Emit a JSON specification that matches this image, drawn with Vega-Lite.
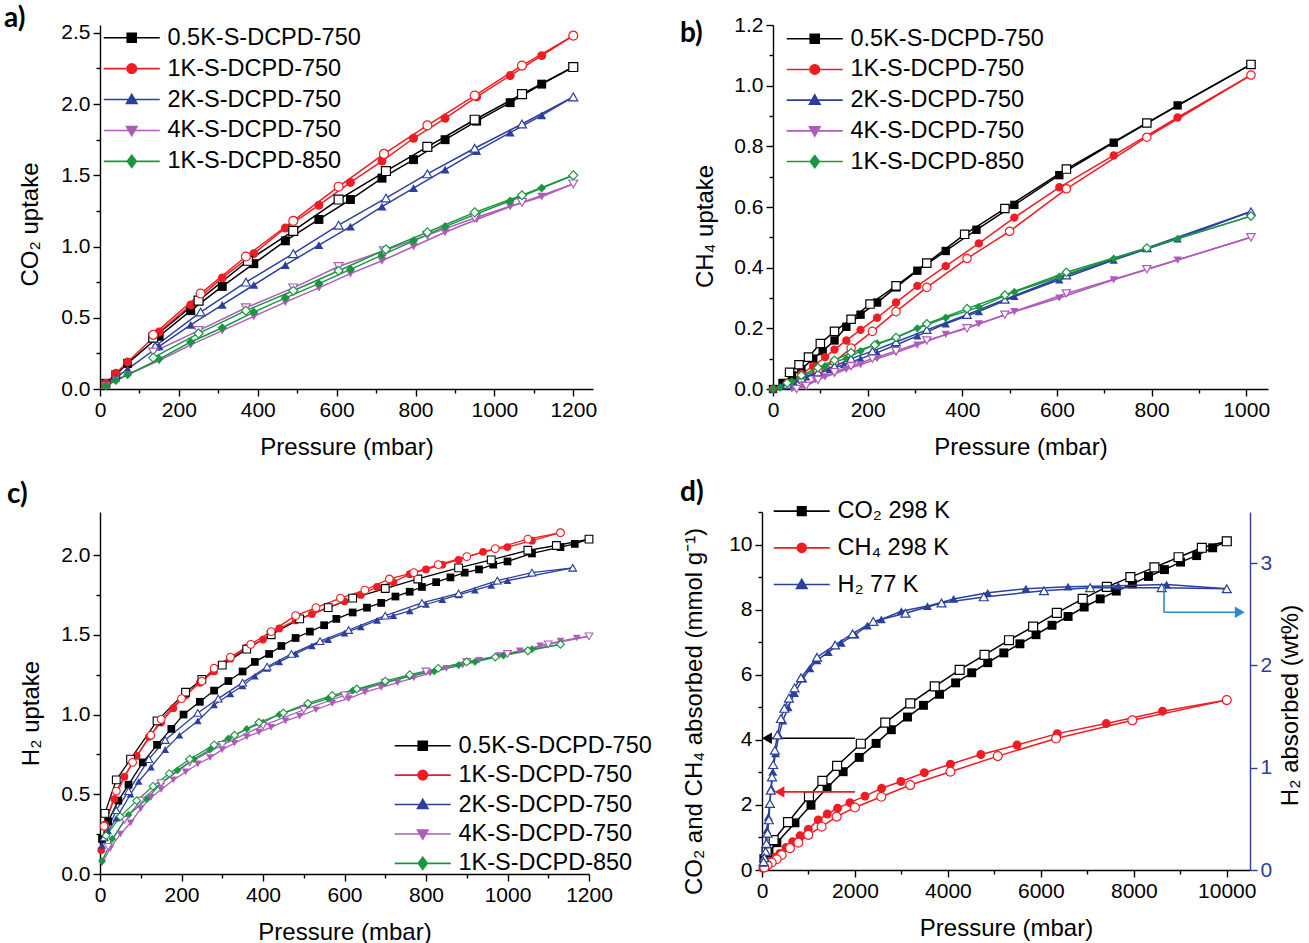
{
"$schema": "https://vega.github.io/schema/vega-lite/v6.json",
"padding": {"left": 4, "top": 4, "right": 4, "bottom": 4},
"config": {
 "font": "Liberation Sans",
 "view": {"stroke": null},
 "axis": {"grid": false, "domainColor": "#000", "domainWidth": 1.4, "tickColor": "#000", "tickWidth": 1.4, "labelColor": "#000", "labelFont": "Liberation Sans", "labelFontSize": 21, "labelPadding": 3, "labelOverlap": false, "labelFlush": false, "labelBound": false, "titleFont": "Liberation Sans", "titleFontSize": 24, "titleFontWeight": "normal", "titleColor": "#000"},
 "legend": {"labelFont": "Liberation Sans", "labelFontSize": 23.5, "labelColor": "#000", "labelLimit": 500}
},
"datasets": {
"a": [
{"s":"0.5K-S-DCPD-750","b":"a","p":15,"v":0.04},{"s":"0.5K-S-DCPD-750","b":"a","p":40,"v":0.10},{"s":"0.5K-S-DCPD-750","b":"a","p":70,"v":0.18},{"s":"0.5K-S-DCPD-750","b":"a","p":150,"v":0.37},{"s":"0.5K-S-DCPD-750","b":"a","p":230,"v":0.55},{"s":"0.5K-S-DCPD-750","b":"a","p":310,"v":0.72},{"s":"0.5K-S-DCPD-750","b":"a","p":390,"v":0.88},{"s":"0.5K-S-DCPD-750","b":"a","p":470,"v":1.04},{"s":"0.5K-S-DCPD-750","b":"a","p":555,"v":1.19},{"s":"0.5K-S-DCPD-750","b":"a","p":635,"v":1.33},{"s":"0.5K-S-DCPD-750","b":"a","p":715,"v":1.48},{"s":"0.5K-S-DCPD-750","b":"a","p":795,"v":1.61},{"s":"0.5K-S-DCPD-750","b":"a","p":875,"v":1.75},{"s":"0.5K-S-DCPD-750","b":"a","p":955,"v":1.88},{"s":"0.5K-S-DCPD-750","b":"a","p":1040,"v":2.01},{"s":"0.5K-S-DCPD-750","b":"a","p":1120,"v":2.14},{"s":"0.5K-S-DCPD-750","b":"a","p":1200,"v":2.26},
{"s":"0.5K-S-DCPD-750","b":"d","p":1200,"v":2.26},{"s":"0.5K-S-DCPD-750","b":"d","p":1070,"v":2.07},{"s":"0.5K-S-DCPD-750","b":"d","p":950,"v":1.89},{"s":"0.5K-S-DCPD-750","b":"d","p":830,"v":1.70},{"s":"0.5K-S-DCPD-750","b":"d","p":725,"v":1.53},{"s":"0.5K-S-DCPD-750","b":"d","p":605,"v":1.33},{"s":"0.5K-S-DCPD-750","b":"d","p":490,"v":1.11},{"s":"0.5K-S-DCPD-750","b":"d","p":375,"v":0.90},{"s":"0.5K-S-DCPD-750","b":"d","p":250,"v":0.62},{"s":"0.5K-S-DCPD-750","b":"d","p":135,"v":0.36},
{"s":"1K-S-DCPD-750","b":"a","p":15,"v":0.04},{"s":"1K-S-DCPD-750","b":"a","p":40,"v":0.11},{"s":"1K-S-DCPD-750","b":"a","p":70,"v":0.19},{"s":"1K-S-DCPD-750","b":"a","p":150,"v":0.40},{"s":"1K-S-DCPD-750","b":"a","p":230,"v":0.59},{"s":"1K-S-DCPD-750","b":"a","p":310,"v":0.78},{"s":"1K-S-DCPD-750","b":"a","p":390,"v":0.95},{"s":"1K-S-DCPD-750","b":"a","p":470,"v":1.13},{"s":"1K-S-DCPD-750","b":"a","p":555,"v":1.29},{"s":"1K-S-DCPD-750","b":"a","p":635,"v":1.45},{"s":"1K-S-DCPD-750","b":"a","p":715,"v":1.60},{"s":"1K-S-DCPD-750","b":"a","p":795,"v":1.76},{"s":"1K-S-DCPD-750","b":"a","p":875,"v":1.90},{"s":"1K-S-DCPD-750","b":"a","p":955,"v":2.05},{"s":"1K-S-DCPD-750","b":"a","p":1040,"v":2.20},{"s":"1K-S-DCPD-750","b":"a","p":1120,"v":2.34},{"s":"1K-S-DCPD-750","b":"a","p":1200,"v":2.48},
{"s":"1K-S-DCPD-750","b":"d","p":1200,"v":2.48},{"s":"1K-S-DCPD-750","b":"d","p":1070,"v":2.27},{"s":"1K-S-DCPD-750","b":"d","p":950,"v":2.06},{"s":"1K-S-DCPD-750","b":"d","p":830,"v":1.85},{"s":"1K-S-DCPD-750","b":"d","p":720,"v":1.65},{"s":"1K-S-DCPD-750","b":"d","p":605,"v":1.42},{"s":"1K-S-DCPD-750","b":"d","p":490,"v":1.18},{"s":"1K-S-DCPD-750","b":"d","p":370,"v":0.93},{"s":"1K-S-DCPD-750","b":"d","p":255,"v":0.67},{"s":"1K-S-DCPD-750","b":"d","p":135,"v":0.38},
{"s":"2K-S-DCPD-750","b":"a","p":15,"v":0.03},{"s":"2K-S-DCPD-750","b":"a","p":40,"v":0.08},{"s":"2K-S-DCPD-750","b":"a","p":70,"v":0.14},{"s":"2K-S-DCPD-750","b":"a","p":150,"v":0.30},{"s":"2K-S-DCPD-750","b":"a","p":230,"v":0.45},{"s":"2K-S-DCPD-750","b":"a","p":310,"v":0.59},{"s":"2K-S-DCPD-750","b":"a","p":390,"v":0.73},{"s":"2K-S-DCPD-750","b":"a","p":470,"v":0.87},{"s":"2K-S-DCPD-750","b":"a","p":555,"v":1.01},{"s":"2K-S-DCPD-750","b":"a","p":635,"v":1.14},{"s":"2K-S-DCPD-750","b":"a","p":715,"v":1.28},{"s":"2K-S-DCPD-750","b":"a","p":795,"v":1.41},{"s":"2K-S-DCPD-750","b":"a","p":875,"v":1.54},{"s":"2K-S-DCPD-750","b":"a","p":955,"v":1.67},{"s":"2K-S-DCPD-750","b":"a","p":1040,"v":1.80},{"s":"2K-S-DCPD-750","b":"a","p":1120,"v":1.92},{"s":"2K-S-DCPD-750","b":"a","p":1200,"v":2.05},
{"s":"2K-S-DCPD-750","b":"d","p":1200,"v":2.05},{"s":"2K-S-DCPD-750","b":"d","p":1070,"v":1.86},{"s":"2K-S-DCPD-750","b":"d","p":950,"v":1.69},{"s":"2K-S-DCPD-750","b":"d","p":830,"v":1.51},{"s":"2K-S-DCPD-750","b":"d","p":725,"v":1.34},{"s":"2K-S-DCPD-750","b":"d","p":605,"v":1.15},{"s":"2K-S-DCPD-750","b":"d","p":490,"v":0.95},{"s":"2K-S-DCPD-750","b":"d","p":370,"v":0.75},{"s":"2K-S-DCPD-750","b":"d","p":255,"v":0.54},{"s":"2K-S-DCPD-750","b":"d","p":140,"v":0.30},
{"s":"4K-S-DCPD-750","b":"a","p":15,"v":0.02},{"s":"4K-S-DCPD-750","b":"a","p":40,"v":0.06},{"s":"4K-S-DCPD-750","b":"a","p":70,"v":0.10},{"s":"4K-S-DCPD-750","b":"a","p":150,"v":0.20},{"s":"4K-S-DCPD-750","b":"a","p":230,"v":0.31},{"s":"4K-S-DCPD-750","b":"a","p":310,"v":0.41},{"s":"4K-S-DCPD-750","b":"a","p":390,"v":0.51},{"s":"4K-S-DCPD-750","b":"a","p":470,"v":0.61},{"s":"4K-S-DCPD-750","b":"a","p":555,"v":0.71},{"s":"4K-S-DCPD-750","b":"a","p":635,"v":0.81},{"s":"4K-S-DCPD-750","b":"a","p":715,"v":0.90},{"s":"4K-S-DCPD-750","b":"a","p":795,"v":1.00},{"s":"4K-S-DCPD-750","b":"a","p":875,"v":1.10},{"s":"4K-S-DCPD-750","b":"a","p":955,"v":1.19},{"s":"4K-S-DCPD-750","b":"a","p":1040,"v":1.28},{"s":"4K-S-DCPD-750","b":"a","p":1120,"v":1.35},{"s":"4K-S-DCPD-750","b":"a","p":1200,"v":1.44},
{"s":"4K-S-DCPD-750","b":"d","p":1200,"v":1.44},{"s":"4K-S-DCPD-750","b":"d","p":1070,"v":1.31},{"s":"4K-S-DCPD-750","b":"d","p":950,"v":1.20},{"s":"4K-S-DCPD-750","b":"d","p":830,"v":1.08},{"s":"4K-S-DCPD-750","b":"d","p":720,"v":0.97},{"s":"4K-S-DCPD-750","b":"d","p":605,"v":0.86},{"s":"4K-S-DCPD-750","b":"d","p":490,"v":0.71},{"s":"4K-S-DCPD-750","b":"d","p":370,"v":0.57},{"s":"4K-S-DCPD-750","b":"d","p":250,"v":0.41},{"s":"4K-S-DCPD-750","b":"d","p":135,"v":0.26},
{"s":"1K-S-DCPD-850","b":"a","p":15,"v":0.02},{"s":"1K-S-DCPD-850","b":"a","p":40,"v":0.06},{"s":"1K-S-DCPD-850","b":"a","p":70,"v":0.10},{"s":"1K-S-DCPD-850","b":"a","p":150,"v":0.21},{"s":"1K-S-DCPD-850","b":"a","p":230,"v":0.33},{"s":"1K-S-DCPD-850","b":"a","p":310,"v":0.43},{"s":"1K-S-DCPD-850","b":"a","p":390,"v":0.54},{"s":"1K-S-DCPD-850","b":"a","p":470,"v":0.64},{"s":"1K-S-DCPD-850","b":"a","p":555,"v":0.74},{"s":"1K-S-DCPD-850","b":"a","p":635,"v":0.84},{"s":"1K-S-DCPD-850","b":"a","p":715,"v":0.94},{"s":"1K-S-DCPD-850","b":"a","p":795,"v":1.04},{"s":"1K-S-DCPD-850","b":"a","p":875,"v":1.14},{"s":"1K-S-DCPD-850","b":"a","p":955,"v":1.23},{"s":"1K-S-DCPD-850","b":"a","p":1040,"v":1.32},{"s":"1K-S-DCPD-850","b":"a","p":1120,"v":1.41},{"s":"1K-S-DCPD-850","b":"a","p":1200,"v":1.50},
{"s":"1K-S-DCPD-850","b":"d","p":1200,"v":1.50},{"s":"1K-S-DCPD-850","b":"d","p":1070,"v":1.36},{"s":"1K-S-DCPD-850","b":"d","p":950,"v":1.24},{"s":"1K-S-DCPD-850","b":"d","p":830,"v":1.10},{"s":"1K-S-DCPD-850","b":"d","p":725,"v":0.98},{"s":"1K-S-DCPD-850","b":"d","p":605,"v":0.83},{"s":"1K-S-DCPD-850","b":"d","p":490,"v":0.69},{"s":"1K-S-DCPD-850","b":"d","p":370,"v":0.55},{"s":"1K-S-DCPD-850","b":"d","p":250,"v":0.39},{"s":"1K-S-DCPD-850","b":"d","p":135,"v":0.22}
],
"b": [
{"s":"0.5K-S-DCPD-750","b":"a","p":0,"v":0},{"s":"0.5K-S-DCPD-750","b":"a","p":20,"v":0.02},{"s":"0.5K-S-DCPD-750","b":"a","p":40,"v":0.045},{"s":"0.5K-S-DCPD-750","b":"a","p":60,"v":0.065},{"s":"0.5K-S-DCPD-750","b":"a","p":85,"v":0.10},{"s":"0.5K-S-DCPD-750","b":"a","p":105,"v":0.125},{"s":"0.5K-S-DCPD-750","b":"a","p":130,"v":0.16},{"s":"0.5K-S-DCPD-750","b":"a","p":155,"v":0.205},{"s":"0.5K-S-DCPD-750","b":"a","p":185,"v":0.245},{"s":"0.5K-S-DCPD-750","b":"a","p":220,"v":0.285},{"s":"0.5K-S-DCPD-750","b":"a","p":260,"v":0.335},{"s":"0.5K-S-DCPD-750","b":"a","p":305,"v":0.39},{"s":"0.5K-S-DCPD-750","b":"a","p":365,"v":0.455},{"s":"0.5K-S-DCPD-750","b":"a","p":430,"v":0.525},{"s":"0.5K-S-DCPD-750","b":"a","p":510,"v":0.607},{"s":"0.5K-S-DCPD-750","b":"a","p":605,"v":0.705},{"s":"0.5K-S-DCPD-750","b":"a","p":720,"v":0.812},{"s":"0.5K-S-DCPD-750","b":"a","p":855,"v":0.935},{"s":"0.5K-S-DCPD-750","b":"a","p":1010,"v":1.07},
{"s":"0.5K-S-DCPD-750","b":"d","p":1010,"v":1.07},{"s":"0.5K-S-DCPD-750","b":"d","p":790,"v":0.877},{"s":"0.5K-S-DCPD-750","b":"d","p":620,"v":0.725},{"s":"0.5K-S-DCPD-750","b":"d","p":490,"v":0.595},{"s":"0.5K-S-DCPD-750","b":"d","p":405,"v":0.51},{"s":"0.5K-S-DCPD-750","b":"d","p":325,"v":0.415},{"s":"0.5K-S-DCPD-750","b":"d","p":260,"v":0.34},{"s":"0.5K-S-DCPD-750","b":"d","p":205,"v":0.28},{"s":"0.5K-S-DCPD-750","b":"d","p":165,"v":0.23},{"s":"0.5K-S-DCPD-750","b":"d","p":130,"v":0.19},{"s":"0.5K-S-DCPD-750","b":"d","p":100,"v":0.15},{"s":"0.5K-S-DCPD-750","b":"d","p":75,"v":0.105},{"s":"0.5K-S-DCPD-750","b":"d","p":55,"v":0.08},{"s":"0.5K-S-DCPD-750","b":"d","p":35,"v":0.055},
{"s":"1K-S-DCPD-750","b":"a","p":0,"v":0},{"s":"1K-S-DCPD-750","b":"a","p":30,"v":0.02},{"s":"1K-S-DCPD-750","b":"a","p":60,"v":0.05},{"s":"1K-S-DCPD-750","b":"a","p":85,"v":0.075},{"s":"1K-S-DCPD-750","b":"a","p":110,"v":0.105},{"s":"1K-S-DCPD-750","b":"a","p":130,"v":0.13},{"s":"1K-S-DCPD-750","b":"a","p":155,"v":0.16},{"s":"1K-S-DCPD-750","b":"a","p":185,"v":0.195},{"s":"1K-S-DCPD-750","b":"a","p":220,"v":0.235},{"s":"1K-S-DCPD-750","b":"a","p":260,"v":0.285},{"s":"1K-S-DCPD-750","b":"a","p":305,"v":0.34},{"s":"1K-S-DCPD-750","b":"a","p":365,"v":0.405},{"s":"1K-S-DCPD-750","b":"a","p":435,"v":0.48},{"s":"1K-S-DCPD-750","b":"a","p":510,"v":0.565},{"s":"1K-S-DCPD-750","b":"a","p":605,"v":0.665},{"s":"1K-S-DCPD-750","b":"a","p":720,"v":0.77},{"s":"1K-S-DCPD-750","b":"a","p":855,"v":0.895},{"s":"1K-S-DCPD-750","b":"a","p":1010,"v":1.035},
{"s":"1K-S-DCPD-750","b":"d","p":1010,"v":1.035},{"s":"1K-S-DCPD-750","b":"d","p":790,"v":0.83},{"s":"1K-S-DCPD-750","b":"d","p":620,"v":0.66},{"s":"1K-S-DCPD-750","b":"d","p":500,"v":0.52},{"s":"1K-S-DCPD-750","b":"d","p":410,"v":0.43},{"s":"1K-S-DCPD-750","b":"d","p":325,"v":0.335},{"s":"1K-S-DCPD-750","b":"d","p":260,"v":0.255},{"s":"1K-S-DCPD-750","b":"d","p":210,"v":0.19},{"s":"1K-S-DCPD-750","b":"d","p":165,"v":0.135},{"s":"1K-S-DCPD-750","b":"d","p":130,"v":0.09},{"s":"1K-S-DCPD-750","b":"d","p":95,"v":0.06},{"s":"1K-S-DCPD-750","b":"d","p":60,"v":0.03},
{"s":"2K-S-DCPD-750","b":"a","p":0,"v":0},{"s":"2K-S-DCPD-750","b":"a","p":20,"v":0.01},{"s":"2K-S-DCPD-750","b":"a","p":45,"v":0.02},{"s":"2K-S-DCPD-750","b":"a","p":70,"v":0.04},{"s":"2K-S-DCPD-750","b":"a","p":95,"v":0.05},{"s":"2K-S-DCPD-750","b":"a","p":120,"v":0.065},{"s":"2K-S-DCPD-750","b":"a","p":150,"v":0.08},{"s":"2K-S-DCPD-750","b":"a","p":185,"v":0.10},{"s":"2K-S-DCPD-750","b":"a","p":220,"v":0.12},{"s":"2K-S-DCPD-750","b":"a","p":260,"v":0.145},{"s":"2K-S-DCPD-750","b":"a","p":305,"v":0.175},{"s":"2K-S-DCPD-750","b":"a","p":365,"v":0.215},{"s":"2K-S-DCPD-750","b":"a","p":435,"v":0.255},{"s":"2K-S-DCPD-750","b":"a","p":510,"v":0.305},{"s":"2K-S-DCPD-750","b":"a","p":605,"v":0.36},{"s":"2K-S-DCPD-750","b":"a","p":720,"v":0.425},{"s":"2K-S-DCPD-750","b":"a","p":855,"v":0.495},{"s":"2K-S-DCPD-750","b":"a","p":1010,"v":0.585},
{"s":"2K-S-DCPD-750","b":"d","p":1010,"v":0.585},{"s":"2K-S-DCPD-750","b":"d","p":790,"v":0.465},{"s":"2K-S-DCPD-750","b":"d","p":620,"v":0.375},{"s":"2K-S-DCPD-750","b":"d","p":490,"v":0.295},{"s":"2K-S-DCPD-750","b":"d","p":410,"v":0.245},{"s":"2K-S-DCPD-750","b":"d","p":325,"v":0.195},{"s":"2K-S-DCPD-750","b":"d","p":260,"v":0.155},{"s":"2K-S-DCPD-750","b":"d","p":210,"v":0.125},{"s":"2K-S-DCPD-750","b":"d","p":165,"v":0.10},{"s":"2K-S-DCPD-750","b":"d","p":130,"v":0.075},{"s":"2K-S-DCPD-750","b":"d","p":95,"v":0.055},{"s":"2K-S-DCPD-750","b":"d","p":60,"v":0.035},{"s":"2K-S-DCPD-750","b":"d","p":30,"v":0.015},
{"s":"4K-S-DCPD-750","b":"a","p":40,"v":0},{"s":"4K-S-DCPD-750","b":"a","p":65,"v":0.01},{"s":"4K-S-DCPD-750","b":"a","p":90,"v":0.03},{"s":"4K-S-DCPD-750","b":"a","p":110,"v":0.04},{"s":"4K-S-DCPD-750","b":"a","p":130,"v":0.05},{"s":"4K-S-DCPD-750","b":"a","p":155,"v":0.065},{"s":"4K-S-DCPD-750","b":"a","p":185,"v":0.08},{"s":"4K-S-DCPD-750","b":"a","p":220,"v":0.10},{"s":"4K-S-DCPD-750","b":"a","p":260,"v":0.12},{"s":"4K-S-DCPD-750","b":"a","p":305,"v":0.145},{"s":"4K-S-DCPD-750","b":"a","p":365,"v":0.18},{"s":"4K-S-DCPD-750","b":"a","p":435,"v":0.215},{"s":"4K-S-DCPD-750","b":"a","p":510,"v":0.255},{"s":"4K-S-DCPD-750","b":"a","p":605,"v":0.30},{"s":"4K-S-DCPD-750","b":"a","p":720,"v":0.36},{"s":"4K-S-DCPD-750","b":"a","p":855,"v":0.425},{"s":"4K-S-DCPD-750","b":"a","p":1010,"v":0.50},
{"s":"4K-S-DCPD-750","b":"d","p":1010,"v":0.50},{"s":"4K-S-DCPD-750","b":"d","p":790,"v":0.395},{"s":"4K-S-DCPD-750","b":"d","p":620,"v":0.315},{"s":"4K-S-DCPD-750","b":"d","p":490,"v":0.245},{"s":"4K-S-DCPD-750","b":"d","p":410,"v":0.20},{"s":"4K-S-DCPD-750","b":"d","p":325,"v":0.16},{"s":"4K-S-DCPD-750","b":"d","p":260,"v":0.125},{"s":"4K-S-DCPD-750","b":"d","p":210,"v":0.10},{"s":"4K-S-DCPD-750","b":"d","p":165,"v":0.075},{"s":"4K-S-DCPD-750","b":"d","p":130,"v":0.055},{"s":"4K-S-DCPD-750","b":"d","p":95,"v":0.03},{"s":"4K-S-DCPD-750","b":"d","p":70,"v":0.01},{"s":"4K-S-DCPD-750","b":"d","p":50,"v":0},
{"s":"1K-S-DCPD-850","b":"a","p":0,"v":0},{"s":"1K-S-DCPD-850","b":"a","p":15,"v":0.005},{"s":"1K-S-DCPD-850","b":"a","p":40,"v":0.025},{"s":"1K-S-DCPD-850","b":"a","p":60,"v":0.04},{"s":"1K-S-DCPD-850","b":"a","p":90,"v":0.06},{"s":"1K-S-DCPD-850","b":"a","p":110,"v":0.075},{"s":"1K-S-DCPD-850","b":"a","p":130,"v":0.09},{"s":"1K-S-DCPD-850","b":"a","p":155,"v":0.10},{"s":"1K-S-DCPD-850","b":"a","p":185,"v":0.125},{"s":"1K-S-DCPD-850","b":"a","p":220,"v":0.15},{"s":"1K-S-DCPD-850","b":"a","p":260,"v":0.17},{"s":"1K-S-DCPD-850","b":"a","p":305,"v":0.20},{"s":"1K-S-DCPD-850","b":"a","p":365,"v":0.235},{"s":"1K-S-DCPD-850","b":"a","p":435,"v":0.27},{"s":"1K-S-DCPD-850","b":"a","p":510,"v":0.32},{"s":"1K-S-DCPD-850","b":"a","p":605,"v":0.37},{"s":"1K-S-DCPD-850","b":"a","p":720,"v":0.43},{"s":"1K-S-DCPD-850","b":"a","p":855,"v":0.495},{"s":"1K-S-DCPD-850","b":"a","p":1010,"v":0.57},
{"s":"1K-S-DCPD-850","b":"d","p":1010,"v":0.57},{"s":"1K-S-DCPD-850","b":"d","p":790,"v":0.465},{"s":"1K-S-DCPD-850","b":"d","p":620,"v":0.385},{"s":"1K-S-DCPD-850","b":"d","p":490,"v":0.31},{"s":"1K-S-DCPD-850","b":"d","p":410,"v":0.265},{"s":"1K-S-DCPD-850","b":"d","p":325,"v":0.215},{"s":"1K-S-DCPD-850","b":"d","p":260,"v":0.17},{"s":"1K-S-DCPD-850","b":"d","p":215,"v":0.145},{"s":"1K-S-DCPD-850","b":"d","p":165,"v":0.12},{"s":"1K-S-DCPD-850","b":"d","p":130,"v":0.095},{"s":"1K-S-DCPD-850","b":"d","p":95,"v":0.07},{"s":"1K-S-DCPD-850","b":"d","p":60,"v":0.045},{"s":"1K-S-DCPD-850","b":"d","p":30,"v":0.02}
],
"c": [
{"s":"0.5K-S-DCPD-750","b":"a","p":5,"v":0.22},{"s":"0.5K-S-DCPD-750","b":"a","p":20,"v":0.33},{"s":"0.5K-S-DCPD-750","b":"a","p":45,"v":0.46},{"s":"0.5K-S-DCPD-750","b":"a","p":70,"v":0.56},{"s":"0.5K-S-DCPD-750","b":"a","p":105,"v":0.70},{"s":"0.5K-S-DCPD-750","b":"a","p":140,"v":0.81},{"s":"0.5K-S-DCPD-750","b":"a","p":175,"v":0.91},{"s":"0.5K-S-DCPD-750","b":"a","p":205,"v":1.00},{"s":"0.5K-S-DCPD-750","b":"a","p":245,"v":1.08},{"s":"0.5K-S-DCPD-750","b":"a","p":280,"v":1.15},{"s":"0.5K-S-DCPD-750","b":"a","p":315,"v":1.21},{"s":"0.5K-S-DCPD-750","b":"a","p":350,"v":1.27},{"s":"0.5K-S-DCPD-750","b":"a","p":380,"v":1.33},{"s":"0.5K-S-DCPD-750","b":"a","p":415,"v":1.38},{"s":"0.5K-S-DCPD-750","b":"a","p":445,"v":1.43},{"s":"0.5K-S-DCPD-750","b":"a","p":480,"v":1.48},{"s":"0.5K-S-DCPD-750","b":"a","p":515,"v":1.52},{"s":"0.5K-S-DCPD-750","b":"a","p":550,"v":1.56},{"s":"0.5K-S-DCPD-750","b":"a","p":580,"v":1.60},{"s":"0.5K-S-DCPD-750","b":"a","p":620,"v":1.64},{"s":"0.5K-S-DCPD-750","b":"a","p":655,"v":1.67},{"s":"0.5K-S-DCPD-750","b":"a","p":690,"v":1.70},{"s":"0.5K-S-DCPD-750","b":"a","p":725,"v":1.74},{"s":"0.5K-S-DCPD-750","b":"a","p":760,"v":1.77},{"s":"0.5K-S-DCPD-750","b":"a","p":790,"v":1.80},{"s":"0.5K-S-DCPD-750","b":"a","p":825,"v":1.83},{"s":"0.5K-S-DCPD-750","b":"a","p":860,"v":1.86},{"s":"0.5K-S-DCPD-750","b":"a","p":895,"v":1.89},{"s":"0.5K-S-DCPD-750","b":"a","p":930,"v":1.91},{"s":"0.5K-S-DCPD-750","b":"a","p":965,"v":1.94},{"s":"0.5K-S-DCPD-750","b":"a","p":1000,"v":1.96},{"s":"0.5K-S-DCPD-750","b":"a","p":1060,"v":2.01},{"s":"0.5K-S-DCPD-750","b":"a","p":1130,"v":2.05},{"s":"0.5K-S-DCPD-750","b":"a","p":1165,"v":2.07},{"s":"0.5K-S-DCPD-750","b":"a","p":1200,"v":2.10},
{"s":"0.5K-S-DCPD-750","b":"d","p":1200,"v":2.10},{"s":"0.5K-S-DCPD-750","b":"d","p":1120,"v":2.06},{"s":"0.5K-S-DCPD-750","b":"d","p":1050,"v":2.03},{"s":"0.5K-S-DCPD-750","b":"d","p":960,"v":1.97},{"s":"0.5K-S-DCPD-750","b":"d","p":880,"v":1.92},{"s":"0.5K-S-DCPD-750","b":"d","p":780,"v":1.85},{"s":"0.5K-S-DCPD-750","b":"d","p":700,"v":1.79},{"s":"0.5K-S-DCPD-750","b":"d","p":620,"v":1.73},{"s":"0.5K-S-DCPD-750","b":"d","p":560,"v":1.67},{"s":"0.5K-S-DCPD-750","b":"d","p":490,"v":1.60},{"s":"0.5K-S-DCPD-750","b":"d","p":420,"v":1.50},{"s":"0.5K-S-DCPD-750","b":"d","p":360,"v":1.41},{"s":"0.5K-S-DCPD-750","b":"d","p":300,"v":1.31},{"s":"0.5K-S-DCPD-750","b":"d","p":250,"v":1.22},{"s":"0.5K-S-DCPD-750","b":"d","p":210,"v":1.14},{"s":"0.5K-S-DCPD-750","b":"d","p":140,"v":0.96},{"s":"0.5K-S-DCPD-750","b":"d","p":75,"v":0.72},{"s":"0.5K-S-DCPD-750","b":"d","p":40,"v":0.59},{"s":"0.5K-S-DCPD-750","b":"d","p":12,"v":0.38},
{"s":"1K-S-DCPD-750","b":"a","p":3,"v":0.15},{"s":"1K-S-DCPD-750","b":"a","p":12,"v":0.31},{"s":"1K-S-DCPD-750","b":"a","p":35,"v":0.47},{"s":"1K-S-DCPD-750","b":"a","p":60,"v":0.61},{"s":"1K-S-DCPD-750","b":"a","p":90,"v":0.74},{"s":"1K-S-DCPD-750","b":"a","p":120,"v":0.86},{"s":"1K-S-DCPD-750","b":"a","p":150,"v":0.95},{"s":"1K-S-DCPD-750","b":"a","p":180,"v":1.04},{"s":"1K-S-DCPD-750","b":"a","p":210,"v":1.12},{"s":"1K-S-DCPD-750","b":"a","p":245,"v":1.20},{"s":"1K-S-DCPD-750","b":"a","p":280,"v":1.27},{"s":"1K-S-DCPD-750","b":"a","p":320,"v":1.35},{"s":"1K-S-DCPD-750","b":"a","p":360,"v":1.42},{"s":"1K-S-DCPD-750","b":"a","p":400,"v":1.47},{"s":"1K-S-DCPD-750","b":"a","p":440,"v":1.54},{"s":"1K-S-DCPD-750","b":"a","p":480,"v":1.59},{"s":"1K-S-DCPD-750","b":"a","p":520,"v":1.63},{"s":"1K-S-DCPD-750","b":"a","p":560,"v":1.67},{"s":"1K-S-DCPD-750","b":"a","p":600,"v":1.71},{"s":"1K-S-DCPD-750","b":"a","p":640,"v":1.75},{"s":"1K-S-DCPD-750","b":"a","p":680,"v":1.80},{"s":"1K-S-DCPD-750","b":"a","p":720,"v":1.83},{"s":"1K-S-DCPD-750","b":"a","p":760,"v":1.88},{"s":"1K-S-DCPD-750","b":"a","p":800,"v":1.91},{"s":"1K-S-DCPD-750","b":"a","p":840,"v":1.94},{"s":"1K-S-DCPD-750","b":"a","p":880,"v":1.97},{"s":"1K-S-DCPD-750","b":"a","p":940,"v":2.02},{"s":"1K-S-DCPD-750","b":"a","p":1000,"v":2.05},{"s":"1K-S-DCPD-750","b":"a","p":1060,"v":2.09},{"s":"1K-S-DCPD-750","b":"a","p":1130,"v":2.14},
{"s":"1K-S-DCPD-750","b":"d","p":1130,"v":2.14},{"s":"1K-S-DCPD-750","b":"d","p":1050,"v":2.10},{"s":"1K-S-DCPD-750","b":"d","p":970,"v":2.04},{"s":"1K-S-DCPD-750","b":"d","p":900,"v":1.99},{"s":"1K-S-DCPD-750","b":"d","p":830,"v":1.94},{"s":"1K-S-DCPD-750","b":"d","p":770,"v":1.89},{"s":"1K-S-DCPD-750","b":"d","p":710,"v":1.85},{"s":"1K-S-DCPD-750","b":"d","p":650,"v":1.78},{"s":"1K-S-DCPD-750","b":"d","p":590,"v":1.73},{"s":"1K-S-DCPD-750","b":"d","p":530,"v":1.67},{"s":"1K-S-DCPD-750","b":"d","p":480,"v":1.62},{"s":"1K-S-DCPD-750","b":"d","p":420,"v":1.52},{"s":"1K-S-DCPD-750","b":"d","p":370,"v":1.44},{"s":"1K-S-DCPD-750","b":"d","p":320,"v":1.36},{"s":"1K-S-DCPD-750","b":"d","p":280,"v":1.29},{"s":"1K-S-DCPD-750","b":"d","p":250,"v":1.21},{"s":"1K-S-DCPD-750","b":"d","p":200,"v":1.10},{"s":"1K-S-DCPD-750","b":"d","p":150,"v":0.97},{"s":"1K-S-DCPD-750","b":"d","p":125,"v":0.87},{"s":"1K-S-DCPD-750","b":"d","p":80,"v":0.70},{"s":"1K-S-DCPD-750","b":"d","p":40,"v":0.52},{"s":"1K-S-DCPD-750","b":"d","p":10,"v":0.30},
{"s":"2K-S-DCPD-750","b":"a","p":5,"v":0.18},{"s":"2K-S-DCPD-750","b":"a","p":20,"v":0.27},{"s":"2K-S-DCPD-750","b":"a","p":40,"v":0.35},{"s":"2K-S-DCPD-750","b":"a","p":75,"v":0.50},{"s":"2K-S-DCPD-750","b":"a","p":95,"v":0.58},{"s":"2K-S-DCPD-750","b":"a","p":125,"v":0.67},{"s":"2K-S-DCPD-750","b":"a","p":160,"v":0.78},{"s":"2K-S-DCPD-750","b":"a","p":195,"v":0.87},{"s":"2K-S-DCPD-750","b":"a","p":240,"v":0.96},{"s":"2K-S-DCPD-750","b":"a","p":280,"v":1.06},{"s":"2K-S-DCPD-750","b":"a","p":320,"v":1.13},{"s":"2K-S-DCPD-750","b":"a","p":350,"v":1.18},{"s":"2K-S-DCPD-750","b":"a","p":380,"v":1.24},{"s":"2K-S-DCPD-750","b":"a","p":410,"v":1.29},{"s":"2K-S-DCPD-750","b":"a","p":440,"v":1.33},{"s":"2K-S-DCPD-750","b":"a","p":480,"v":1.38},{"s":"2K-S-DCPD-750","b":"a","p":520,"v":1.43},{"s":"2K-S-DCPD-750","b":"a","p":560,"v":1.47},{"s":"2K-S-DCPD-750","b":"a","p":600,"v":1.51},{"s":"2K-S-DCPD-750","b":"a","p":640,"v":1.55},{"s":"2K-S-DCPD-750","b":"a","p":680,"v":1.59},{"s":"2K-S-DCPD-750","b":"a","p":720,"v":1.62},{"s":"2K-S-DCPD-750","b":"a","p":760,"v":1.65},{"s":"2K-S-DCPD-750","b":"a","p":800,"v":1.69},{"s":"2K-S-DCPD-750","b":"a","p":840,"v":1.72},{"s":"2K-S-DCPD-750","b":"a","p":880,"v":1.75},{"s":"2K-S-DCPD-750","b":"a","p":920,"v":1.78},{"s":"2K-S-DCPD-750","b":"a","p":960,"v":1.81},{"s":"2K-S-DCPD-750","b":"a","p":1000,"v":1.84},{"s":"2K-S-DCPD-750","b":"a","p":1160,"v":1.92},
{"s":"2K-S-DCPD-750","b":"d","p":1160,"v":1.92},{"s":"2K-S-DCPD-750","b":"d","p":1060,"v":1.89},{"s":"2K-S-DCPD-750","b":"d","p":975,"v":1.84},{"s":"2K-S-DCPD-750","b":"d","p":880,"v":1.76},{"s":"2K-S-DCPD-750","b":"d","p":790,"v":1.70},{"s":"2K-S-DCPD-750","b":"d","p":700,"v":1.62},{"s":"2K-S-DCPD-750","b":"d","p":610,"v":1.53},{"s":"2K-S-DCPD-750","b":"d","p":540,"v":1.46},{"s":"2K-S-DCPD-750","b":"d","p":470,"v":1.38},{"s":"2K-S-DCPD-750","b":"d","p":410,"v":1.30},{"s":"2K-S-DCPD-750","b":"d","p":350,"v":1.20},{"s":"2K-S-DCPD-750","b":"d","p":290,"v":1.10},{"s":"2K-S-DCPD-750","b":"d","p":240,"v":1.01},{"s":"2K-S-DCPD-750","b":"d","p":160,"v":0.84},{"s":"2K-S-DCPD-750","b":"d","p":120,"v":0.72},{"s":"2K-S-DCPD-750","b":"d","p":70,"v":0.52},{"s":"2K-S-DCPD-750","b":"d","p":40,"v":0.40},{"s":"2K-S-DCPD-750","b":"d","p":10,"v":0.23},
{"s":"4K-S-DCPD-750","b":"a","p":5,"v":0.07},{"s":"4K-S-DCPD-750","b":"a","p":25,"v":0.16},{"s":"4K-S-DCPD-750","b":"a","p":50,"v":0.25},{"s":"4K-S-DCPD-750","b":"a","p":75,"v":0.32},{"s":"4K-S-DCPD-750","b":"a","p":100,"v":0.41},{"s":"4K-S-DCPD-750","b":"a","p":125,"v":0.48},{"s":"4K-S-DCPD-750","b":"a","p":150,"v":0.53},{"s":"4K-S-DCPD-750","b":"a","p":180,"v":0.59},{"s":"4K-S-DCPD-750","b":"a","p":210,"v":0.64},{"s":"4K-S-DCPD-750","b":"a","p":240,"v":0.69},{"s":"4K-S-DCPD-750","b":"a","p":270,"v":0.73},{"s":"4K-S-DCPD-750","b":"a","p":300,"v":0.78},{"s":"4K-S-DCPD-750","b":"a","p":330,"v":0.82},{"s":"4K-S-DCPD-750","b":"a","p":360,"v":0.86},{"s":"4K-S-DCPD-750","b":"a","p":390,"v":0.89},{"s":"4K-S-DCPD-750","b":"a","p":420,"v":0.92},{"s":"4K-S-DCPD-750","b":"a","p":455,"v":0.96},{"s":"4K-S-DCPD-750","b":"a","p":490,"v":0.99},{"s":"4K-S-DCPD-750","b":"a","p":530,"v":1.03},{"s":"4K-S-DCPD-750","b":"a","p":570,"v":1.07},{"s":"4K-S-DCPD-750","b":"a","p":610,"v":1.10},{"s":"4K-S-DCPD-750","b":"a","p":650,"v":1.14},{"s":"4K-S-DCPD-750","b":"a","p":690,"v":1.17},{"s":"4K-S-DCPD-750","b":"a","p":730,"v":1.20},{"s":"4K-S-DCPD-750","b":"a","p":770,"v":1.23},{"s":"4K-S-DCPD-750","b":"a","p":810,"v":1.26},{"s":"4K-S-DCPD-750","b":"a","p":850,"v":1.29},{"s":"4K-S-DCPD-750","b":"a","p":890,"v":1.31},{"s":"4K-S-DCPD-750","b":"a","p":930,"v":1.34},{"s":"4K-S-DCPD-750","b":"a","p":980,"v":1.37},{"s":"4K-S-DCPD-750","b":"a","p":1030,"v":1.40},{"s":"4K-S-DCPD-750","b":"a","p":1080,"v":1.43},{"s":"4K-S-DCPD-750","b":"a","p":1130,"v":1.46},{"s":"4K-S-DCPD-750","b":"a","p":1170,"v":1.48},{"s":"4K-S-DCPD-750","b":"a","p":1200,"v":1.49},
{"s":"4K-S-DCPD-750","b":"d","p":1200,"v":1.49},{"s":"4K-S-DCPD-750","b":"d","p":1100,"v":1.44},{"s":"4K-S-DCPD-750","b":"d","p":1000,"v":1.38},{"s":"4K-S-DCPD-750","b":"d","p":900,"v":1.33},{"s":"4K-S-DCPD-750","b":"d","p":800,"v":1.27},{"s":"4K-S-DCPD-750","b":"d","p":700,"v":1.20},{"s":"4K-S-DCPD-750","b":"d","p":600,"v":1.12},{"s":"4K-S-DCPD-750","b":"d","p":500,"v":1.03},{"s":"4K-S-DCPD-750","b":"d","p":400,"v":0.93},{"s":"4K-S-DCPD-750","b":"d","p":300,"v":0.81},{"s":"4K-S-DCPD-750","b":"d","p":220,"v":0.70},{"s":"4K-S-DCPD-750","b":"d","p":150,"v":0.57},{"s":"4K-S-DCPD-750","b":"d","p":100,"v":0.46},{"s":"4K-S-DCPD-750","b":"d","p":60,"v":0.34},{"s":"4K-S-DCPD-750","b":"d","p":20,"v":0.17},
{"s":"1K-S-DCPD-850","b":"a","p":5,"v":0.08},{"s":"1K-S-DCPD-850","b":"a","p":30,"v":0.22},{"s":"1K-S-DCPD-850","b":"a","p":70,"v":0.37},{"s":"1K-S-DCPD-850","b":"a","p":115,"v":0.47},{"s":"1K-S-DCPD-850","b":"a","p":150,"v":0.57},{"s":"1K-S-DCPD-850","b":"a","p":190,"v":0.65},{"s":"1K-S-DCPD-850","b":"a","p":230,"v":0.72},{"s":"1K-S-DCPD-850","b":"a","p":270,"v":0.78},{"s":"1K-S-DCPD-850","b":"a","p":315,"v":0.85},{"s":"1K-S-DCPD-850","b":"a","p":360,"v":0.91},{"s":"1K-S-DCPD-850","b":"a","p":400,"v":0.95},{"s":"1K-S-DCPD-850","b":"a","p":440,"v":1.00},{"s":"1K-S-DCPD-850","b":"a","p":510,"v":1.06},{"s":"1K-S-DCPD-850","b":"a","p":560,"v":1.10},{"s":"1K-S-DCPD-850","b":"a","p":620,"v":1.15},{"s":"1K-S-DCPD-850","b":"a","p":700,"v":1.20},{"s":"1K-S-DCPD-850","b":"a","p":760,"v":1.24},{"s":"1K-S-DCPD-850","b":"a","p":820,"v":1.27},{"s":"1K-S-DCPD-850","b":"a","p":880,"v":1.31},{"s":"1K-S-DCPD-850","b":"a","p":920,"v":1.33},{"s":"1K-S-DCPD-850","b":"a","p":990,"v":1.37},{"s":"1K-S-DCPD-850","b":"a","p":1060,"v":1.41},{"s":"1K-S-DCPD-850","b":"a","p":1130,"v":1.44},
{"s":"1K-S-DCPD-850","b":"d","p":1130,"v":1.44},{"s":"1K-S-DCPD-850","b":"d","p":1050,"v":1.40},{"s":"1K-S-DCPD-850","b":"d","p":970,"v":1.36},{"s":"1K-S-DCPD-850","b":"d","p":900,"v":1.33},{"s":"1K-S-DCPD-850","b":"d","p":830,"v":1.29},{"s":"1K-S-DCPD-850","b":"d","p":760,"v":1.25},{"s":"1K-S-DCPD-850","b":"d","p":700,"v":1.21},{"s":"1K-S-DCPD-850","b":"d","p":630,"v":1.16},{"s":"1K-S-DCPD-850","b":"d","p":570,"v":1.12},{"s":"1K-S-DCPD-850","b":"d","p":510,"v":1.07},{"s":"1K-S-DCPD-850","b":"d","p":450,"v":1.01},{"s":"1K-S-DCPD-850","b":"d","p":390,"v":0.95},{"s":"1K-S-DCPD-850","b":"d","p":330,"v":0.87},{"s":"1K-S-DCPD-850","b":"d","p":280,"v":0.81},{"s":"1K-S-DCPD-850","b":"d","p":220,"v":0.72},{"s":"1K-S-DCPD-850","b":"d","p":170,"v":0.63},{"s":"1K-S-DCPD-850","b":"d","p":130,"v":0.55},{"s":"1K-S-DCPD-850","b":"d","p":90,"v":0.46},{"s":"1K-S-DCPD-850","b":"d","p":50,"v":0.36},{"s":"1K-S-DCPD-850","b":"d","p":15,"v":0.24}
],
"d": [
{"s":"CO₂ 298 K","b":"a","p":40,"v":0.35},{"s":"CO₂ 298 K","b":"a","p":150,"v":0.55},{"s":"CO₂ 298 K","b":"a","p":320,"v":0.84},{"s":"CO₂ 298 K","b":"a","p":709,"v":1.45},{"s":"CO₂ 298 K","b":"a","p":1054,"v":1.99},{"s":"CO₂ 298 K","b":"a","p":1400,"v":2.53},{"s":"CO₂ 298 K","b":"a","p":1746,"v":3.02},{"s":"CO₂ 298 K","b":"a","p":2092,"v":3.46},{"s":"CO₂ 298 K","b":"a","p":2455,"v":3.89},{"s":"CO₂ 298 K","b":"a","p":2783,"v":4.31},{"s":"CO₂ 298 K","b":"a","p":3130,"v":4.70},{"s":"CO₂ 298 K","b":"a","p":3474,"v":5.06},{"s":"CO₂ 298 K","b":"a","p":3820,"v":5.40},{"s":"CO₂ 298 K","b":"a","p":4166,"v":5.75},{"s":"CO₂ 298 K","b":"a","p":4512,"v":6.06},{"s":"CO₂ 298 K","b":"a","p":4857,"v":6.37},{"s":"CO₂ 298 K","b":"a","p":5203,"v":6.67},{"s":"CO₂ 298 K","b":"a","p":5549,"v":6.95},{"s":"CO₂ 298 K","b":"a","p":5895,"v":7.23},{"s":"CO₂ 298 K","b":"a","p":6240,"v":7.52},{"s":"CO₂ 298 K","b":"a","p":6586,"v":7.79},{"s":"CO₂ 298 K","b":"a","p":6932,"v":8.08},{"s":"CO₂ 298 K","b":"a","p":7277,"v":8.33},{"s":"CO₂ 298 K","b":"a","p":7623,"v":8.57},{"s":"CO₂ 298 K","b":"a","p":7969,"v":8.79},{"s":"CO₂ 298 K","b":"a","p":8315,"v":9.02},{"s":"CO₂ 298 K","b":"a","p":8660,"v":9.23},{"s":"CO₂ 298 K","b":"a","p":9006,"v":9.46},{"s":"CO₂ 298 K","b":"a","p":9352,"v":9.66},{"s":"CO₂ 298 K","b":"a","p":9697,"v":9.90},{"s":"CO₂ 298 K","b":"a","p":10000,"v":10.10},
{"s":"CO₂ 298 K","b":"d","p":10000,"v":10.10},{"s":"CO₂ 298 K","b":"d","p":9464,"v":9.90},{"s":"CO₂ 298 K","b":"d","p":8963,"v":9.61},{"s":"CO₂ 298 K","b":"d","p":8444,"v":9.30},{"s":"CO₂ 298 K","b":"d","p":7926,"v":9.00},{"s":"CO₂ 298 K","b":"d","p":7420,"v":8.70},{"s":"CO₂ 298 K","b":"d","p":6900,"v":8.33},{"s":"CO₂ 298 K","b":"d","p":6344,"v":7.90},{"s":"CO₂ 298 K","b":"d","p":5834,"v":7.48},{"s":"CO₂ 298 K","b":"d","p":5315,"v":7.06},{"s":"CO₂ 298 K","b":"d","p":4788,"v":6.61},{"s":"CO₂ 298 K","b":"d","p":4253,"v":6.15},{"s":"CO₂ 298 K","b":"d","p":3717,"v":5.64},{"s":"CO₂ 298 K","b":"d","p":3190,"v":5.12},{"s":"CO₂ 298 K","b":"d","p":2653,"v":4.53},{"s":"CO₂ 298 K","b":"d","p":2126,"v":3.88},{"s":"CO₂ 298 K","b":"d","p":1616,"v":3.20},{"s":"CO₂ 298 K","b":"d","p":1300,"v":2.74},{"s":"CO₂ 298 K","b":"d","p":1010,"v":2.26},{"s":"CO₂ 298 K","b":"d","p":560,"v":1.47},{"s":"CO₂ 298 K","b":"d","p":250,"v":0.92},{"s":"CO₂ 298 K","b":"d","p":100,"v":0.55},
{"s":"CH₄ 298 K","b":"a","p":20,"v":0.05},{"s":"CH₄ 298 K","b":"a","p":64,"v":0.12},{"s":"CH₄ 298 K","b":"a","p":172,"v":0.26},{"s":"CH₄ 298 K","b":"a","p":280,"v":0.39},{"s":"CH₄ 298 K","b":"a","p":387,"v":0.51},{"s":"CH₄ 298 K","b":"a","p":516,"v":0.69},{"s":"CH₄ 298 K","b":"a","p":660,"v":0.87},{"s":"CH₄ 298 K","b":"a","p":817,"v":1.05},{"s":"CH₄ 298 K","b":"a","p":996,"v":1.25},{"s":"CH₄ 298 K","b":"a","p":1211,"v":1.54},{"s":"CH₄ 298 K","b":"a","p":1405,"v":1.72},{"s":"CH₄ 298 K","b":"a","p":1627,"v":1.90},{"s":"CH₄ 298 K","b":"a","p":1892,"v":2.07},{"s":"CH₄ 298 K","b":"a","p":2215,"v":2.27},{"s":"CH₄ 298 K","b":"a","p":2573,"v":2.51},{"s":"CH₄ 298 K","b":"a","p":2989,"v":2.72},{"s":"CH₄ 298 K","b":"a","p":3492,"v":2.99},{"s":"CH₄ 298 K","b":"a","p":4054,"v":3.25},{"s":"CH₄ 298 K","b":"a","p":4710,"v":3.55},{"s":"CH₄ 298 K","b":"a","p":5488,"v":3.84},{"s":"CH₄ 298 K","b":"a","p":6353,"v":4.19},{"s":"CH₄ 298 K","b":"a","p":7407,"v":4.50},{"s":"CH₄ 298 K","b":"a","p":8617,"v":4.88},{"s":"CH₄ 298 K","b":"a","p":10000,"v":5.22},
{"s":"CH₄ 298 K","b":"d","p":10000,"v":5.22},{"s":"CH₄ 298 K","b":"d","p":7969,"v":4.60},{"s":"CH₄ 298 K","b":"d","p":6327,"v":4.04},{"s":"CH₄ 298 K","b":"d","p":5073,"v":3.50},{"s":"CH₄ 298 K","b":"d","p":4054,"v":3.02},{"s":"CH₄ 298 K","b":"d","p":3189,"v":2.61},{"s":"CH₄ 298 K","b":"d","p":2567,"v":2.25},{"s":"CH₄ 298 K","b":"d","p":2000,"v":1.92},{"s":"CH₄ 298 K","b":"d","p":1606,"v":1.64},{"s":"CH₄ 298 K","b":"d","p":1283,"v":1.33},{"s":"CH₄ 298 K","b":"d","p":996,"v":1.08},{"s":"CH₄ 298 K","b":"d","p":781,"v":0.84},{"s":"CH₄ 298 K","b":"d","p":602,"v":0.67},{"s":"CH₄ 298 K","b":"d","p":423,"v":0.46},{"s":"CH₄ 298 K","b":"d","p":316,"v":0.33},{"s":"CH₄ 298 K","b":"d","p":208,"v":0.23},{"s":"CH₄ 298 K","b":"d","p":120,"v":0.15},{"s":"CH₄ 298 K","b":"d","p":50,"v":0.08},
{"s":"H₂ 77 K","b":"a","p":20,"v":0.07},{"s":"H₂ 77 K","b":"a","p":43,"v":0.13},{"s":"H₂ 77 K","b":"a","p":70,"v":0.25},{"s":"H₂ 77 K","b":"a","p":104,"v":0.39},{"s":"H₂ 77 K","b":"a","p":135,"v":0.52},{"s":"H₂ 77 K","b":"a","p":164,"v":0.65},{"s":"H₂ 77 K","b":"a","p":200,"v":0.80},{"s":"H₂ 77 K","b":"a","p":233,"v":0.96},{"s":"H₂ 77 K","b":"a","p":290,"v":1.14},{"s":"H₂ 77 K","b":"a","p":363,"v":1.32},{"s":"H₂ 77 K","b":"a","p":450,"v":1.46},{"s":"H₂ 77 K","b":"a","p":562,"v":1.59},{"s":"H₂ 77 K","b":"a","p":700,"v":1.73},{"s":"H₂ 77 K","b":"a","p":882,"v":1.87},{"s":"H₂ 77 K","b":"a","p":1030,"v":1.97},{"s":"H₂ 77 K","b":"a","p":1184,"v":2.05},{"s":"H₂ 77 K","b":"a","p":1426,"v":2.13},{"s":"H₂ 77 K","b":"a","p":1703,"v":2.22},{"s":"H₂ 77 K","b":"a","p":2005,"v":2.30},{"s":"H₂ 77 K","b":"a","p":2265,"v":2.39},{"s":"H₂ 77 K","b":"a","p":2567,"v":2.45},{"s":"H₂ 77 K","b":"a","p":2999,"v":2.53},{"s":"H₂ 77 K","b":"a","p":3561,"v":2.58},{"s":"H₂ 77 K","b":"a","p":4123,"v":2.65},{"s":"H₂ 77 K","b":"a","p":4857,"v":2.71},{"s":"H₂ 77 K","b":"a","p":5678,"v":2.75},{"s":"H₂ 77 K","b":"a","p":6586,"v":2.77},{"s":"H₂ 77 K","b":"a","p":7666,"v":2.78},{"s":"H₂ 77 K","b":"a","p":8704,"v":2.79},{"s":"H₂ 77 K","b":"a","p":10000,"v":2.75},
{"s":"H₂ 77 K","b":"d","p":10000,"v":2.75},{"s":"H₂ 77 K","b":"d","p":8600,"v":2.76},{"s":"H₂ 77 K","b":"d","p":7061,"v":2.76},{"s":"H₂ 77 K","b":"d","p":6067,"v":2.73},{"s":"H₂ 77 K","b":"d","p":4771,"v":2.67},{"s":"H₂ 77 K","b":"d","p":3863,"v":2.61},{"s":"H₂ 77 K","b":"d","p":3086,"v":2.51},{"s":"H₂ 77 K","b":"d","p":2394,"v":2.43},{"s":"H₂ 77 K","b":"d","p":1950,"v":2.31},{"s":"H₂ 77 K","b":"d","p":1573,"v":2.20},{"s":"H₂ 77 K","b":"d","p":1184,"v":2.08},{"s":"H₂ 77 K","b":"d","p":838,"v":1.88},{"s":"H₂ 77 K","b":"d","p":700,"v":1.78},{"s":"H₂ 77 K","b":"d","p":579,"v":1.68},{"s":"H₂ 77 K","b":"d","p":480,"v":1.58},{"s":"H₂ 77 K","b":"d","p":406,"v":1.48},{"s":"H₂ 77 K","b":"d","p":330,"v":1.32},{"s":"H₂ 77 K","b":"d","p":277,"v":1.17},{"s":"H₂ 77 K","b":"d","p":240,"v":1.03},{"s":"H₂ 77 K","b":"d","p":216,"v":0.91},{"s":"H₂ 77 K","b":"d","p":190,"v":0.78},{"s":"H₂ 77 K","b":"d","p":170,"v":0.65},{"s":"H₂ 77 K","b":"d","p":147,"v":0.49},{"s":"H₂ 77 K","b":"d","p":120,"v":0.36},{"s":"H₂ 77 K","b":"d","p":95,"v":0.26},{"s":"H₂ 77 K","b":"d","p":78,"v":0.18},{"s":"H₂ 77 K","b":"d","p":50,"v":0.12},{"s":"H₂ 77 K","b":"d","p":35,"v":0.08}
],
"arrows": [
{"ax":"L","c":"k","p":2000,"v":4.05,"p2":106,"v2":4.05},
{"ax":"L","c":"r","p":2000,"v":2.4,"p2":375,"v2":2.4},
{"ax":"R","c":"b","p":8650,"v":2.78,"p2":8650,"v2":2.52},
{"ax":"R","c":"b","p":8650,"v":2.52,"p2":10280,"v2":2.52}
],
"heads": [
{"ax":"L","c":"k","p":106,"v":4.05},
{"ax":"L","c":"r","p":375,"v":2.4},
{"ax":"R","c":"b","p":10280,"v":2.52}
]
},
"resolve": {"scale": {"color": "independent", "shape": "independent", "stroke": "independent", "fill": "independent"}, "legend": {"color": "independent", "shape": "independent"}},
"bounds": "full",
"spacing": 20,
"vconcat": [
{
 "bounds": "flush",
 "spacing": 180,
 "resolve": {"scale": {"color": "independent", "shape": "independent"}, "legend": {"color": "independent", "shape": "independent"}},
 "hconcat": [
 {
  "width": 493, "height": 364,
  "title": {"text": "a)", "anchor": "start", "align": "left", "baseline": "middle", "frame": "group", "offset": 0, "dx": -96, "dy": 25, "font": "Lato", "fontSize": 28, "fontWeight": "bold", "color": "#000"},
  "data": {"name": "a"},
  "encoding": {
   "x": {"field": "p", "type": "quantitative", "scale": {"domain": [0, 1250], "nice": false, "zero": false}, "axis": {"title": "Pressure (mbar)", "values": [0,100,200,300,400,500,600,700,800,900,1000,1100,1200], "format": "d", "labelExpr": "datum.value % 200 == 0 ? datum.label : ''", "tickSize": {"condition": {"test": "datum.value % 200 == 0", "value": 7}, "value": 4}, "titlePadding": 15}},
   "y": {"field": "v", "type": "quantitative", "scale": {"domain": [0, 2.555], "nice": false}, "axis": {"title": "CO₂ uptake", "values": [0,0.25,0.5,0.75,1,1.25,1.5,1.75,2,2.25,2.5], "format": ".1f", "labelExpr": "round(datum.value*100) % 50 == 0 ? datum.label : ''", "tickSize": {"condition": {"test": "round(datum.value*100) % 50 == 0", "value": 7}, "value": 4}, "titlePadding": 18, "titleY": 199}},
   "color": {"field": "s", "type": "nominal", "scale": {"domain": ["0.5K-S-DCPD-750","1K-S-DCPD-750","2K-S-DCPD-750","4K-S-DCPD-750","1K-S-DCPD-850"], "range": ["#000000","#ee1d23","#2b3f9e","#ad5cb9","#1a9641"]},
    "legend": {"title": null, "orient": "none", "legendX": -3, "legendY": 1, "padding": 0, "rowPadding": 5.9, "labelOffset": 47, "symbolSize": 100, "symbolStrokeWidth": 1.6, "labelFontSize": 23.5, "labelLimit": 500,
     "encode": {"symbols": {"update": {
      "shape": {"signal": "datum.value == '0.5K-S-DCPD-750' ? 'M-1,0H10.2M3.7,-0.9H5.5V0.9H3.7Z' : datum.value == '1K-S-DCPD-750' ? 'M-1,0H10.2M5.55,0A0.95,0.95,0,1,1,3.65,0A0.95,0.95,0,1,1,5.55,0Z' : datum.value == '2K-S-DCPD-750' ? 'M-1,0H10.2M4.6,-1.05L5.65,0.8H3.55Z' : datum.value == '4K-S-DCPD-750' ? 'M-1,0H10.2M4.6,1.05L5.65,-0.8H3.55Z' : 'M-1,0H10.2M4.6,-1.2L5.5,0L4.6,1.2L3.7,0Z'"},
      "strokeWidth": {"value": 1.6}, "opacity": {"value": 1}}}}}}
  },
  "layer": [
   {"mark": {"type": "line", "strokeWidth": 1.5}, "encoding": {"detail": {"field": "b", "type": "nominal"}}},
   {"transform": [{"filter": "datum.b == 'a'"}], "mark": {"type": "point", "filled": true, "size": 80, "opacity": 1}, "encoding": {"shape": {"field": "s", "type": "nominal", "scale": {"domain": ["1K-S-DCPD-850","0.5K-S-DCPD-750","1K-S-DCPD-750","2K-S-DCPD-750","4K-S-DCPD-750"], "range": ["diamond","square","circle","triangle-up","triangle-down"]}, "legend": null}}},
   {"transform": [{"filter": "datum.b == 'd'"}], "mark": {"type": "point", "filled": false, "fill": "white", "strokeWidth": 1.2, "size": 80, "opacity": 1}, "encoding": {"shape": {"field": "s", "type": "nominal", "scale": {"domain": ["1K-S-DCPD-850","0.5K-S-DCPD-750","1K-S-DCPD-750","2K-S-DCPD-750","4K-S-DCPD-750"], "range": ["diamond","square","circle","triangle-up","triangle-down"]}, "legend": null}}}
  ]
 },
 {
  "width": 495, "height": 364,
  "title": {"text": "b)", "anchor": "start", "align": "left", "baseline": "middle", "frame": "group", "offset": 0, "dx": -93, "dy": 48, "font": "Lato", "fontSize": 28, "fontWeight": "bold", "color": "#000"},
  "data": {"name": "b"},
  "encoding": {
   "x": {"field": "p", "type": "quantitative", "scale": {"domain": [0, 1046], "nice": false, "zero": false}, "axis": {"title": "Pressure (mbar)", "values": [0,100,200,300,400,500,600,700,800,900,1000], "format": "d", "labelExpr": "datum.value % 200 == 0 ? datum.label : ''", "tickSize": {"condition": {"test": "datum.value % 200 == 0", "value": 7}, "value": 4}, "titlePadding": 15}},
   "y": {"field": "v", "type": "quantitative", "scale": {"domain": [0, 1.2], "nice": false}, "axis": {"title": "CH₄ uptake", "values": [0,0.1,0.2,0.3,0.4,0.5,0.6,0.7,0.8,0.9,1.0,1.1,1.2], "format": ".1f", "labelExpr": "round(datum.value*10) % 2 == 0 ? datum.label : ''", "tickSize": {"condition": {"test": "round(datum.value*10) % 2 == 0", "value": 7}, "value": 4}, "titlePadding": 16, "titleY": 201}},
   "color": {"field": "s", "type": "nominal", "scale": {"domain": ["0.5K-S-DCPD-750","1K-S-DCPD-750","2K-S-DCPD-750","4K-S-DCPD-750","1K-S-DCPD-850"], "range": ["#000000","#ee1d23","#2b3f9e","#ad5cb9","#1a9641"]},
    "legend": {"title": null, "orient": "none", "legendX": 7, "legendY": 2, "padding": 0, "rowPadding": 5.7, "labelOffset": 47, "symbolSize": 100, "symbolStrokeWidth": 1.6, "labelFontSize": 23.5, "labelLimit": 500,
     "encode": {"symbols": {"update": {
      "shape": {"signal": "datum.value == '0.5K-S-DCPD-750' ? 'M-1,0H10.2M3.7,-0.9H5.5V0.9H3.7Z' : datum.value == '1K-S-DCPD-750' ? 'M-1,0H10.2M5.55,0A0.95,0.95,0,1,1,3.65,0A0.95,0.95,0,1,1,5.55,0Z' : datum.value == '2K-S-DCPD-750' ? 'M-1,0H10.2M4.6,-1.05L5.65,0.8H3.55Z' : datum.value == '4K-S-DCPD-750' ? 'M-1,0H10.2M4.6,1.05L5.65,-0.8H3.55Z' : 'M-1,0H10.2M4.6,-1.2L5.5,0L4.6,1.2L3.7,0Z'"},
      "strokeWidth": {"value": 1.6}, "opacity": {"value": 1}}}}}}
  },
  "layer": [
   {"mark": {"type": "line", "strokeWidth": 1.5}, "encoding": {"detail": {"field": "b", "type": "nominal"}}},
   {"transform": [{"filter": "datum.b == 'a'"}], "mark": {"type": "point", "filled": true, "size": 70, "opacity": 1}, "encoding": {"shape": {"field": "s", "type": "nominal", "scale": {"domain": ["1K-S-DCPD-850","0.5K-S-DCPD-750","1K-S-DCPD-750","2K-S-DCPD-750","4K-S-DCPD-750"], "range": ["diamond","square","circle","triangle-up","triangle-down"]}, "legend": null}}},
   {"transform": [{"filter": "datum.b == 'd'"}], "mark": {"type": "point", "filled": false, "fill": "white", "strokeWidth": 1.2, "size": 70, "opacity": 1}, "encoding": {"shape": {"field": "s", "type": "nominal", "scale": {"domain": ["1K-S-DCPD-850","0.5K-S-DCPD-750","1K-S-DCPD-750","2K-S-DCPD-750","4K-S-DCPD-750"], "range": ["diamond","square","circle","triangle-up","triangle-down"]}, "legend": null}}}
  ]
 }
 ]
},
{
 "bounds": "flush",
 "spacing": 173,
 "resolve": {"scale": {"color": "independent", "shape": "independent", "stroke": "independent", "fill": "independent"}, "legend": {"color": "independent", "shape": "independent"}},
 "hconcat": [
 {
  "width": 489, "height": 362,
  "title": {"text": "c)", "anchor": "start", "align": "left", "baseline": "middle", "frame": "group", "offset": 0, "dx": -93, "dy": 11, "font": "Lato", "fontSize": 28, "fontWeight": "bold", "color": "#000"},
  "data": {"name": "c"},
  "encoding": {
   "x": {"field": "p", "type": "quantitative", "scale": {"domain": [0, 1200], "nice": false, "zero": false}, "axis": {"title": "Pressure (mbar)", "values": [0,100,200,300,400,500,600,700,800,900,1000,1100,1200], "format": "d", "labelExpr": "datum.value % 200 == 0 ? datum.label : ''", "tickSize": {"condition": {"test": "datum.value % 200 == 0", "value": 7}, "value": 4}, "titlePadding": 15}},
   "y": {"field": "v", "type": "quantitative", "scale": {"domain": [0, 2.27], "nice": false}, "axis": {"title": "H₂ uptake", "values": [0,0.25,0.5,0.75,1,1.25,1.5,1.75,2], "format": ".1f", "labelExpr": "round(datum.value*100) % 50 == 0 ? datum.label : ''", "tickSize": {"condition": {"test": "round(datum.value*100) % 50 == 0", "value": 7}, "value": 4}, "titlePadding": 17, "titleY": 201}},
   "color": {"field": "s", "type": "nominal", "scale": {"domain": ["0.5K-S-DCPD-750","1K-S-DCPD-750","2K-S-DCPD-750","4K-S-DCPD-750","1K-S-DCPD-850"], "range": ["#000000","#ee1d23","#2b3f9e","#ad5cb9","#1a9641"]},
    "legend": {"title": null, "orient": "none", "legendX": 288, "legendY": 222, "padding": 0, "rowPadding": 4.4, "labelOffset": 47, "symbolSize": 100, "symbolStrokeWidth": 1.6, "labelFontSize": 23.5, "labelLimit": 500,
     "encode": {"symbols": {"update": {
      "shape": {"signal": "datum.value == '0.5K-S-DCPD-750' ? 'M-1,0H10.2M3.7,-0.9H5.5V0.9H3.7Z' : datum.value == '1K-S-DCPD-750' ? 'M-1,0H10.2M5.55,0A0.95,0.95,0,1,1,3.65,0A0.95,0.95,0,1,1,5.55,0Z' : datum.value == '2K-S-DCPD-750' ? 'M-1,0H10.2M4.6,-1.05L5.65,0.8H3.55Z' : datum.value == '4K-S-DCPD-750' ? 'M-1,0H10.2M4.6,1.05L5.65,-0.8H3.55Z' : 'M-1,0H10.2M4.6,-1.2L5.5,0L4.6,1.2L3.7,0Z'"},
      "strokeWidth": {"value": 1.6}, "opacity": {"value": 1}}}}}}
  },
  "layer": [
   {"mark": {"type": "line", "strokeWidth": 1.3}, "encoding": {"detail": {"field": "b", "type": "nominal"}}},
   {"transform": [{"filter": "datum.b == 'a'"}], "mark": {"type": "point", "filled": true, "size": 60, "opacity": 1}, "encoding": {"shape": {"field": "s", "type": "nominal", "scale": {"domain": ["1K-S-DCPD-850","0.5K-S-DCPD-750","1K-S-DCPD-750","2K-S-DCPD-750","4K-S-DCPD-750"], "range": ["diamond","square","circle","triangle-up","triangle-down"]}, "legend": null}}},
   {"transform": [{"filter": "datum.b == 'd'"}], "mark": {"type": "point", "filled": false, "fill": "white", "strokeWidth": 1.1, "size": 60, "opacity": 1}, "encoding": {"shape": {"field": "s", "type": "nominal", "scale": {"domain": ["1K-S-DCPD-850","0.5K-S-DCPD-750","1K-S-DCPD-750","2K-S-DCPD-750","4K-S-DCPD-750"], "range": ["diamond","square","circle","triangle-up","triangle-down"]}, "legend": null}}}
  ]
 },
 {
  "width": 488, "height": 358,
  "title": {"text": "d)", "anchor": "start", "align": "left", "baseline": "middle", "frame": "group", "offset": 0, "dx": -82, "dy": 22, "font": "Lato", "fontSize": 28, "fontWeight": "bold", "color": "#000"},
  "encoding": {
   "x": {"field": "p", "type": "quantitative", "scale": {"domain": [0, 10500], "nice": false, "zero": false}, "axis": {"title": "Pressure (mbar)", "values": [0,1000,2000,3000,4000,5000,6000,7000,8000,9000,10000], "format": "d", "labelExpr": "datum.value % 2000 == 0 ? datum.label : ''", "tickSize": {"condition": {"test": "datum.value % 2000 == 0", "value": 7}, "value": 4}, "titlePadding": 15}}
  },
  "resolve": {"scale": {"y": "independent"}},
  "layer": [
   {
    "encoding": {"y": {"field": "v", "type": "quantitative", "scale": {"domain": [0, 11], "nice": false}, "axis": {"title": "CO₂ and CH₄ absorbed (mmol g⁻¹)", "values": [0,1,2,3,4,5,6,7,8,9,10,11], "format": "d", "labelExpr": "datum.value % 2 == 0 ? datum.label : ''", "tickSize": {"condition": {"test": "datum.value % 2 == 0", "value": 7}, "value": 4}, "titlePadding": 22, "titleY": 199}}},
    "layer": [
     {
      "data": {"name": "d"},
      "transform": [{"filter": "datum.s != 'H₂ 77 K'"}],
      "encoding": {"color": {"field": "s", "type": "nominal", "scale": {"domain": ["CO₂ 298 K","CH₄ 298 K","H₂ 77 K"], "range": ["#000000","#ee1d23","#2b3f9e"]},
       "legend": {"title": null, "orient": "none", "legendX": 5, "legendY": -12.6, "padding": 0, "rowPadding": 11.7, "labelOffset": 47, "symbolSize": 100, "symbolStrokeWidth": 1.6, "labelFontSize": 23.5, "labelLimit": 500,
        "encode": {"symbols": {"update": {
         "shape": {"signal": "datum.value == 'CO₂ 298 K' ? 'M-1,0H10.2M3.75,-0.85H5.45V0.85H3.75Z' : datum.value == 'CH₄ 298 K' ? 'M-1,0H10.2M5.5,0A0.9,0.9,0,1,1,3.7,0A0.9,0.9,0,1,1,5.5,0Z' : 'M-1,0H10.2M4.6,-1.05L5.65,0.8H3.55Z'"},
         "strokeWidth": {"value": 1.6}, "opacity": {"value": 1}}}}}}},
      "layer": [
       {"mark": {"type": "line", "strokeWidth": 1.5}, "encoding": {"detail": {"field": "b", "type": "nominal"}}},
       {"transform": [{"filter": "datum.b == 'a'"}], "mark": {"type": "point", "filled": true, "size": 80, "opacity": 1}, "encoding": {"shape": {"field": "s", "type": "nominal", "scale": {"domain": ["H₂ 77 K","CO₂ 298 K","CH₄ 298 K"], "range": ["triangle-up","square","circle"]}, "legend": null}}},
       {"transform": [{"filter": "datum.b == 'd'"}], "mark": {"type": "point", "filled": false, "fill": "white", "strokeWidth": 1.2, "size": 80, "opacity": 1}, "encoding": {"shape": {"field": "s", "type": "nominal", "scale": {"domain": ["H₂ 77 K","CO₂ 298 K","CH₄ 298 K"], "range": ["triangle-up","square","circle"]}, "legend": null}}}
      ]
     },
     {
      "data": {"name": "arrows"},
      "transform": [{"filter": "datum.ax == 'L'"}],
      "mark": {"type": "rule", "strokeWidth": 1.6},
      "encoding": {"x2": {"field": "p2"}, "y2": {"field": "v2"}, "stroke": {"field": "c", "type": "nominal", "scale": {"domain": ["k","r","b"], "range": ["#000000","#ee1d23","#2a8ad8"]}, "legend": null}}
     },
     {
      "data": {"name": "heads"},
      "transform": [{"filter": "datum.ax == 'L'"}],
      "mark": {"type": "point", "shape": "triangle-left", "filled": true, "size": 130, "opacity": 1},
      "encoding": {"fill": {"field": "c", "type": "nominal", "scale": {"domain": ["k","r","b"], "range": ["#000000","#ee1d23","#2a8ad8"]}, "legend": null}}
     }
    ]
   },
   {
    "encoding": {"y": {"field": "v", "type": "quantitative", "scale": {"domain": [0, 3.5], "nice": false}, "axis": {"orient": "right", "title": "H₂ absorbed (wt%)", "values": [0,0.5,1,1.5,2,2.5,3,3.5], "format": "d", "labelExpr": "datum.value % 1 == 0 ? datum.label : ''", "tickSize": {"condition": {"test": "datum.value % 1 == 0", "value": 7}, "value": 4}, "domainColor": "#2f3c9c", "tickColor": "#2f3c9c", "labelColor": "#2f3c9c", "titleAngle": 270, "titleBaseline": "top", "titlePadding": 7, "titleY": 193}}},
    "layer": [
     {
      "data": {"name": "d"},
      "transform": [{"filter": "datum.s == 'H₂ 77 K'"}],
      "encoding": {"color": {"field": "s", "type": "nominal", "scale": {"domain": ["CO₂ 298 K","CH₄ 298 K","H₂ 77 K"], "range": ["#000000","#ee1d23","#2b3f9e"]},
       "legend": {"title": null, "orient": "none", "legendX": 5, "legendY": -12.6, "padding": 0, "rowPadding": 11.7, "labelOffset": 47, "symbolSize": 100, "symbolStrokeWidth": 1.6, "labelFontSize": 23.5, "labelLimit": 500,
        "encode": {"symbols": {"update": {
         "shape": {"signal": "datum.value == 'CO₂ 298 K' ? 'M-1,0H10.2M3.75,-0.85H5.45V0.85H3.75Z' : datum.value == 'CH₄ 298 K' ? 'M-1,0H10.2M5.5,0A0.9,0.9,0,1,1,3.7,0A0.9,0.9,0,1,1,5.5,0Z' : 'M-1,0H10.2M4.6,-1.05L5.65,0.8H3.55Z'"},
         "strokeWidth": {"value": 1.6}, "opacity": {"value": 1}}}}}}},
      "layer": [
       {"mark": {"type": "line", "strokeWidth": 1.5}, "encoding": {"detail": {"field": "b", "type": "nominal"}}},
       {"transform": [{"filter": "datum.b == 'a'"}], "mark": {"type": "point", "filled": true, "size": 80, "opacity": 1}, "encoding": {"shape": {"field": "s", "type": "nominal", "scale": {"domain": ["H₂ 77 K","CO₂ 298 K","CH₄ 298 K"], "range": ["triangle-up","square","circle"]}, "legend": null}}},
       {"transform": [{"filter": "datum.b == 'd'"}], "mark": {"type": "point", "filled": false, "fill": "white", "strokeWidth": 1.2, "size": 80, "opacity": 1}, "encoding": {"shape": {"field": "s", "type": "nominal", "scale": {"domain": ["H₂ 77 K","CO₂ 298 K","CH₄ 298 K"], "range": ["triangle-up","square","circle"]}, "legend": null}}}
      ]
     },
     {
      "data": {"name": "arrows"},
      "transform": [{"filter": "datum.ax == 'R'"}],
      "mark": {"type": "rule", "strokeWidth": 1.6},
      "encoding": {"x2": {"field": "p2"}, "y2": {"field": "v2"}, "stroke": {"field": "c", "type": "nominal", "scale": {"domain": ["k","r","b"], "range": ["#000000","#ee1d23","#2a8ad8"]}, "legend": null}}
     },
     {
      "data": {"name": "heads"},
      "transform": [{"filter": "datum.ax == 'R'"}],
      "mark": {"type": "point", "shape": "triangle-right", "filled": true, "size": 130, "opacity": 1},
      "encoding": {"fill": {"field": "c", "type": "nominal", "scale": {"domain": ["k","r","b"], "range": ["#000000","#ee1d23","#2a8ad8"]}, "legend": null}}
     }
    ]
   }
  ]
 }
 ]
}
]
}
